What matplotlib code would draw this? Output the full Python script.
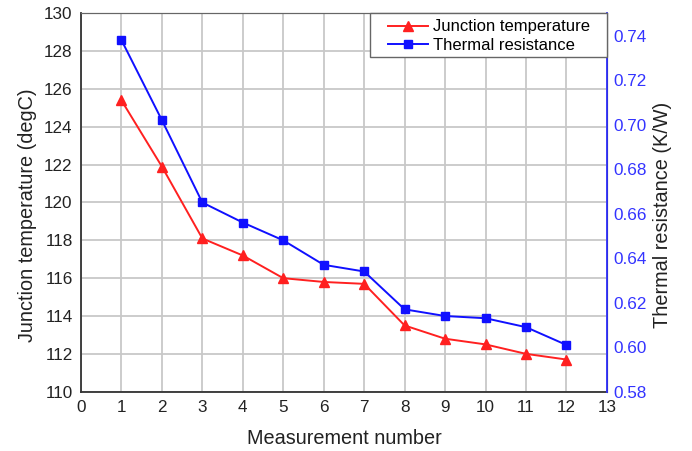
import matplotlib
matplotlib.use("Agg")
import matplotlib.pyplot as plt
from matplotlib.patches import Rectangle

plt.rcParams['font.family'] = ['Liberation Sans', 'DejaVu Sans']

measurement = [1, 2, 3, 4, 5, 6, 7, 8, 9, 10, 11, 12]
junction_temp = [125.4, 121.9, 118.1, 117.2, 116.0, 115.8, 115.7, 113.5, 112.8, 112.5, 112.0, 111.7]
thermal_res = [0.738, 0.702, 0.665, 0.656, 0.648, 0.637, 0.634, 0.617, 0.614, 0.613, 0.609, 0.601]

left_ticks = [110, 112, 114, 116, 118, 120, 122, 124, 126, 128, 130]
right_ticks = [0.58, 0.60, 0.62, 0.64, 0.66, 0.68, 0.70, 0.72, 0.74]
x_ticks = list(range(0, 14))

fig = plt.figure(figsize=(6.92, 4.51), dpi=100)
ax = fig.add_axes([0.117, 0.1315, 0.760, 0.839])
ax2 = ax.twinx()

l1, = ax.plot(measurement, junction_temp, color='#ff2020', marker='^', markersize=7,
              linewidth=1.4, label='Junction temperature')
l2, = ax2.plot(measurement, thermal_res, color='#1010ff', marker='s', markersize=6,
               linewidth=1.4, label='Thermal resistance')

ax.set_xlim(0, 13)
ax.set_ylim(110, 130)
ax2.set_ylim(0.58, 0.75)
ax.set_xticks(x_ticks)
ax.set_yticks(left_ticks)
ax2.set_yticks(right_ticks)
ax2.set_yticklabels([f"{v:.2f}" for v in right_ticks])

ax.grid(True, color='#c8c8c8', linewidth=1.3)
ax.set_axisbelow(True)

ax.tick_params(axis='both', length=0, labelsize=12.3, colors='#222222', pad=6)
ax2.tick_params(axis='y', length=0, labelsize=12.3, colors='#3333ff', pad=5)

for s in ['left', 'bottom']:
    ax.spines[s].set_color('#333333')
    ax.spines[s].set_linewidth(1.3)
ax.spines['top'].set_color('#666666')
ax2.spines['top'].set_color('#666666')
ax2.spines['right'].set_color('#3333ff')
ax2.spines['right'].set_linewidth(1.3)
ax2.spines['left'].set_visible(False)
ax2.spines['bottom'].set_visible(False)

ax.set_xlabel('Measurement number', fontsize=14.3, color='#222222', labelpad=10)
ax.set_ylabel('Junction temperature (degC)', fontsize=14.3, color='#222222', labelpad=5)
ax2.set_ylabel('Thermal resistance (K/W)', fontsize=14.3, color='#222222', labelpad=4)
ax.yaxis.label.set_y(0.467)
ax2.yaxis.label.set_y(0.467)

# legend frame
frame = Rectangle((0.549, 0.885), 0.451, 0.115, transform=ax2.transAxes,
                  facecolor='white', edgecolor='#666666', linewidth=1.0, zorder=5,
                  clip_on=False)
ax2.add_patch(frame)

leg = ax2.legend(handles=[l1, l2], loc='upper left', fontsize=12, frameon=False,
                 bbox_to_anchor=(0.584, 0.984), borderaxespad=0, borderpad=0,
                 handlelength=2.4, handletextpad=0.3, labelspacing=0.22)
leg.set_zorder(6)

fig.savefig('out.png', dpi=100)
